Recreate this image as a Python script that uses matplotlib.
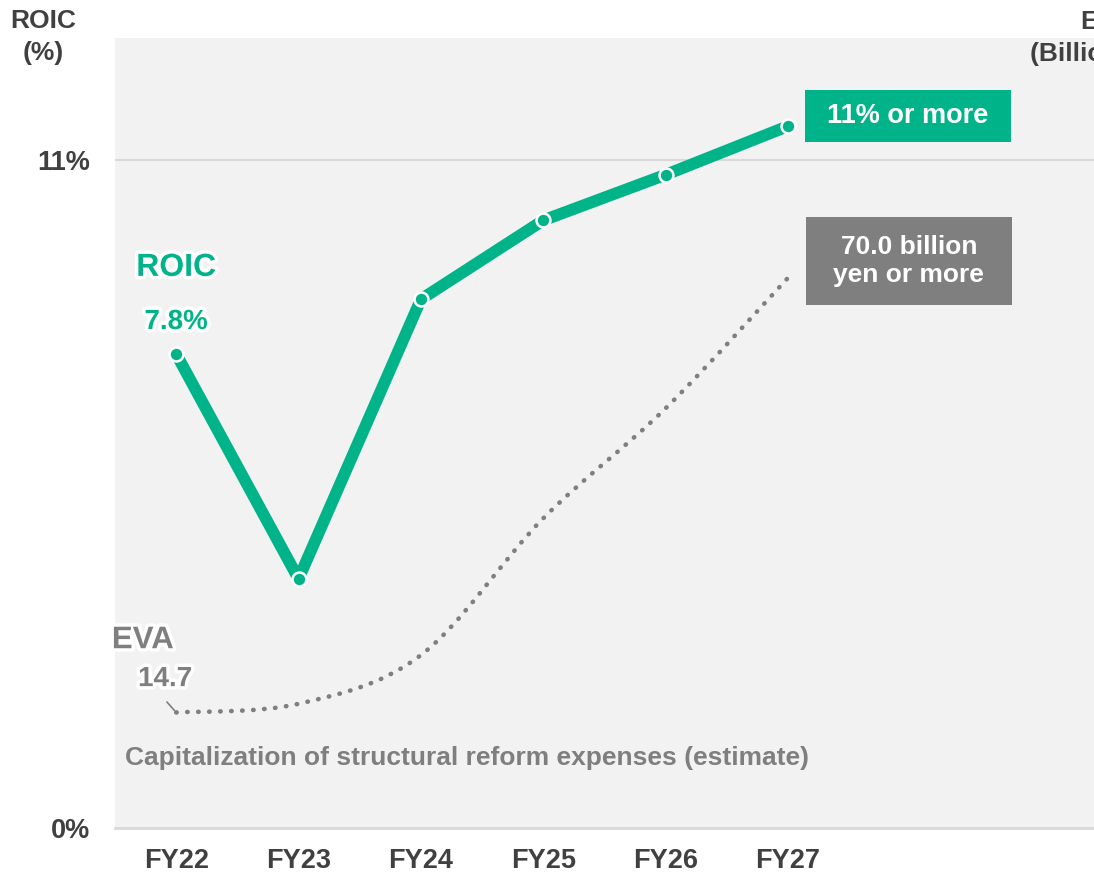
import numpy as np
import matplotlib
matplotlib.use('Agg')
import matplotlib.pyplot as plt
import matplotlib.patheffects as pe
from matplotlib.path import Path
from matplotlib.patches import PathPatch, Rectangle
from matplotlib.offsetbox import DrawingArea, AnnotationBbox
from matplotlib.text import Text

years = ["FY22", "FY23", "FY24", "FY25", "FY26", "FY27"]
roic = [7.8, 4.1, 8.7, 10.0, 10.75, 11.55]          # %
eva = [14.7, 15.8, 22.0, 39.4, 53.4, 70.0]          # billion yen
roic_ticks = [0, 11]
roic_tick_labels = ["0%", "11%"]

GREEN = "#00B388"
GRAY = "#7F7F7F"
DARK = "#404040"
plt.rcParams['font.family'] = ['Liberation Sans', 'DejaVu Sans']
plt.rcParams['font.weight'] = 'bold'

fig = plt.figure(figsize=(10.94, 8.73), dpi=100)
ax = fig.add_axes([115 / 1094, 45 / 873, 979 / 1094, 790 / 873])
ax.set_facecolor("#F2F2F2")
ax2 = ax.twinx()

x = np.arange(len(years))
ax.set_xlim(-0.5, 7.5)
ax.set_ylim(0, 13)
ax2.set_ylim(0, 100.5)

for s in ax.spines.values():
    s.set_visible(False)
for s in ax2.spines.values():
    s.set_visible(False)
ax.axhline(0, color="#D9D9D9", lw=2, zorder=1, clip_on=False)
ax.axhline(11, color="#D9D9D9", lw=1.5, zorder=1)

ax.set_xticks(x)
ax.set_xticklabels(years, fontsize=19.5, color=DARK, fontweight='bold')
ax.set_yticks(roic_ticks)
ax.set_yticklabels(roic_tick_labels, fontsize=19.5, color=DARK, fontweight='bold')
ax.tick_params(axis='x', length=0, pad=14.5)
ax.tick_params(axis='y', length=0, pad=18)
ax2.set_yticks([])

# ROIC line
ax.plot(x, roic, color=GREEN, lw=8.5, solid_capstyle='butt', zorder=4)
ax.plot(x, roic, 'o', ms=10, mfc=GREEN, mec='white', mew=1.8, zorder=5)

# EVA smoothed dotted line (Catmull-Rom bezier through the data points)
pts = np.column_stack([x, eva]).astype(float)
verts = [tuple(pts[0])]
codes = [Path.MOVETO]
for i in range(len(pts) - 1):
    p0 = pts[max(i - 1, 0)]
    p1 = pts[i]
    p2 = pts[i + 1]
    p3 = pts[min(i + 2, len(pts) - 1)]
    c1 = p1 + (p2 - p0) / 6
    c2 = p2 - (p3 - p1) / 6
    verts += [tuple(c1), tuple(c2), tuple(p2)]
    codes += [Path.CURVE4] * 3
patch = PathPatch(Path(verts, codes), fill=False, edgecolor=GRAY, lw=3.3,
                  linestyle=(0, (0.1, 2.3)), capstyle='round', zorder=3)
ax2.add_patch(patch)

glow = [pe.withStroke(linewidth=5, foreground='white')]

# labels
ax.annotate("ROIC", (x[0], roic[0]), xytext=(0, 62), textcoords='offset points',
            ha='center', va='center', fontsize=23, color=GREEN, path_effects=glow)
ax.annotate(f"{roic[0]}%", (x[0], roic[0]), xytext=(0, 23), textcoords='offset points',
            ha='center', va='center', fontsize=20, color=GREEN, path_effects=glow)
ax2.annotate("EVA", (x[0], eva[0]), xytext=(-24, 52), textcoords='offset points',
             ha='center', va='center', fontsize=22.5, color=GRAY, path_effects=glow)
ax2.annotate(f"{eva[0]}", (x[0], eva[0]), xytext=(-8, 24), textcoords='offset points',
             ha='center', va='center', fontsize=20, color=GRAY, path_effects=glow)
ax2.annotate("", (x[0], eva[0]), xytext=(-8, 9), textcoords='offset points',
             arrowprops=dict(arrowstyle='-', color=GRAY, lw=1.2))


def target_box(axis, xy, offset, w, h, text, color, size):
    da = DrawingArea(w, h, 0, 0)
    da.add_artist(Rectangle((0, 0), w, h, fc=color, ec='none'))
    da.add_artist(Text(w / 2, h / 2, text, ha='center', va='center', fontsize=size,
                       color='white', fontweight='bold', linespacing=1.2,
                       fontfamily=['Liberation Sans', 'DejaVu Sans']))
    ab = AnnotationBbox(da, xy, xybox=offset, boxcoords='offset points',
                        frameon=False, pad=0, box_alignment=(0.5, 0.5), zorder=6)
    axis.add_artist(ab)


target_box(ax, (x[-1], roic[-1]), (86.4, 7.2), 148, 37.5, "11% or more", GREEN, 19.5)
target_box(ax2, (x[-1], eva[-1]), (87, 12), 148, 63, "70.0 billion\nyen or more", GRAY, 19)

ax.text(-0.42, 1.15, "Capitalization of structural reform expenses (estimate)",
        ha='left', va='center', fontsize=19, color=GRAY, zorder=6)

fig.text(43 / 1094, 1 - 37 / 873, "ROIC\n(%)", ha='center', va='center',
         fontsize=19, color=DARK, linespacing=1.38)
fig.text(1106 / 1094, 1 - 38 / 873, "EVA\n(Billion yen)", ha='center', va='center',
         fontsize=19, color=DARK, linespacing=1.38)

fig.savefig("out.png", dpi=100)
